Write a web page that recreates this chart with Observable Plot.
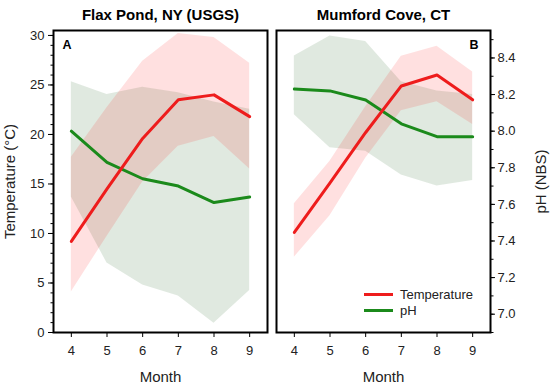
<!DOCTYPE html>
<html>
<head>
<meta charset="utf-8">
<script src="https://cdn.jsdelivr.net/npm/d3@7"></script>
<script src="https://cdn.jsdelivr.net/npm/@observablehq/plot@0.6"></script>
<style>
  html, body { margin: 0; padding: 0; background: white; }
  #wrap { position: relative; width: 550px; height: 388px; font-family: "Liberation Sans", Arial, sans-serif; }
  #legend { position: absolute; left: 364px; top: 287px; font-size: 13px; color: #222; }
  .row { display: flex; align-items: center; height: 15.7px; }
  .sw { width: 29px; height: 3px; margin-right: 7px; }
</style>
</head>
<body>
<div id="wrap"><div id="legend"></div></div>
<script>
// ---- data ----
const panels = ["Flax Pond, NY (USGS)", "Mumford Cove, CT"];
const panelLetters = ["A", "B"];
const months = [4, 5, 6, 7, 8, 9];

const flaxTemp   = [9.2, 14.5, 19.6, 23.5, 24.0, 21.8];
const flaxTempHi = [17.7, 22.7, 27.4, 30.2, 29.8, 27.2];
const flaxTempLo = [4.1, 9.7, 15.2, 18.8, 19.8, 16.5];
const flaxPH     = [8.00, 7.83, 7.74, 7.70, 7.61, 7.64];
const flaxPHHi   = [8.27, 8.20, 8.24, 8.21, 8.16, 8.12];
const flaxPHLo   = [7.64, 7.28, 7.16, 7.10, 6.95, 7.13];

const mumTemp    = [10.1, 15.1, 20.2, 24.9, 26.0, 23.5];
const mumTempHi  = [13.0, 17.3, 22.8, 27.9, 28.9, 26.3];
const mumTempLo  = [7.6, 11.8, 17.6, 22.4, 23.3, 21.0];
const mumPH      = [8.23, 8.22, 8.17, 8.04, 7.97, 7.97];
const mumPHHi    = [8.41, 8.52, 8.49, 8.27, 8.22, 8.20];
const mumPHLo    = [8.09, 7.91, 7.89, 7.76, 7.70, 7.73];

const tempTicks = [0, 5, 10, 15, 20, 25, 30];
const phTicks = [7.0, 7.2, 7.4, 7.6, 7.8, 8.0, 8.2, 8.4];
const monthTicks = [4, 5, 6, 7, 8, 9];
const seriesNames = ["Temperature", "pH"];
const xTitle = "Month";
const yTitleLeft = "Temperature (°C)";
const yTitleRight = "pH (NBS)";

// ---- pH axis mapped onto the temperature axis ----
const tDomain = [0, 30.5];
const phDomain = [6.9, 8.55];
const ph2t = p => (p - phDomain[0]) / (phDomain[1] - phDomain[0]) * (tDomain[1] - tDomain[0]) + tDomain[0];
const t2ph = t => (t - tDomain[0]) / (tDomain[1] - tDomain[0]) * (phDomain[1] - phDomain[0]) + phDomain[0];

const RED = "#ee1c1c", GREEN = "#1b8a1b";

function rows(panel, temp, tHi, tLo, ph, pHi, pLo) {
  return months.map((m, i) => ({
    panel, month: m,
    temp: temp[i], tHi: tHi[i], tLo: tLo[i],
    ph: ph2t(ph[i]), pHi: ph2t(pHi[i]), pLo: ph2t(pLo[i])
  }));
}
const data = [
  ...rows(panels[0], flaxTemp, flaxTempHi, flaxTempLo, flaxPH, flaxPHHi, flaxPHLo),
  ...rows(panels[1], mumTemp, mumTempHi, mumTempLo, mumPH, mumPHHi, mumPHLo)
];
const letters = panels.map((p, i) => ({panel: p, label: panelLetters[i]}));

const minorT = d3.range(0, 31, 1);
const minorPH = d3.range(6.9, 8.55, 0.1).map(ph2t);

const chart = Plot.plot({
  width: 550,
  height: 388,
  marginLeft: 53,
  marginRight: 59,
  marginTop: 30,
  marginBottom: 56,
  style: {fontFamily: '"Liberation Sans", Arial, sans-serif', fontSize: "13px", color: "#222", background: "white"},
  fx: {domain: panels, paddingInner: 0.04, paddingOuter: 0},
  x: {domain: [3.5, 9.5]},
  y: {domain: tDomain},
  marks: [
    Plot.areaY(data, {fx: "panel", x: "month", y1: "pLo", y2: "pHi", fill: "#2e6b2e", fillOpacity: 0.15}),
    Plot.areaY(data, {fx: "panel", x: "month", y1: "tLo", y2: "tHi", fill: "#ff0000", fillOpacity: 0.12}),
    Plot.line(data, {fx: "panel", x: "month", y: "ph", stroke: GREEN, strokeWidth: 3}),
    Plot.line(data, {fx: "panel", x: "month", y: "temp", stroke: RED, strokeWidth: 3}),
    Plot.frame({stroke: "black", strokeWidth: 2}),
    Plot.text(letters.slice(0, 1), {fx: "panel", text: "label", frameAnchor: "top-left", dx: 9, dy: 10, fontWeight: "bold", fontSize: 12.5, fill: "black"}),
    Plot.text(letters.slice(1), {fx: "panel", text: "label", frameAnchor: "top-right", dx: -12, dy: 10, fontWeight: "bold", fontSize: 12.5, fill: "black"}),
    Plot.axisFx({anchor: "top", tickSize: 0, tickPadding: 11, label: null, fontSize: 15, fontWeight: "bold", fill: "black"}),
    Plot.axisX(monthTicks, {anchor: "bottom", tickSize: 5, tickPadding: 8, stroke: "black", label: null}),
    Plot.text(letters, {fx: "panel", text: () => xTitle, frameAnchor: "bottom", lineAnchor: "middle", textAnchor: "middle", dy: 45, fontSize: 15, fill: "#222"}),
    Plot.axisY(tempTicks, {anchor: "left", tickSize: 5, tickPadding: 4, stroke: "black", label: null}),
    Plot.axisY(minorT, {anchor: "left", tickSize: 2.5, text: null, label: null, stroke: "black"}),
    Plot.text(letters.slice(0, 1), {fx: "panel", text: () => yTitleLeft, frameAnchor: "left", rotate: -90, textAnchor: "middle", lineAnchor: "middle", dx: -43, fontSize: 15, fill: "#222"}),
    Plot.axisY(phTicks.map(ph2t), {anchor: "right", tickSize: 4, tickPadding: 3, stroke: "black", tickFormat: d => t2ph(d).toFixed(1), label: null}),
    Plot.axisY(minorPH, {anchor: "right", tickSize: 2.5, text: null, label: null, stroke: "black"}),
    Plot.text(letters.slice(1), {fx: "panel", text: () => yTitleRight, frameAnchor: "right", rotate: -90, textAnchor: "middle", lineAnchor: "middle", dx: 51, fontSize: 15, fill: "#222"})
  ]
});
const wrap = document.getElementById("wrap");
wrap.insertBefore(chart, wrap.firstChild);

// legend
const legend = document.getElementById("legend");
[[seriesNames[0], RED], [seriesNames[1], GREEN]].forEach(([name, color]) => {
  const row = document.createElement("div");
  row.className = "row";
  const sw = document.createElement("div");
  sw.className = "sw";
  sw.style.background = color;
  const t = document.createElement("span");
  t.textContent = name;
  row.appendChild(sw); row.appendChild(t);
  legend.appendChild(row);
});
</script>
</body>
</html>
